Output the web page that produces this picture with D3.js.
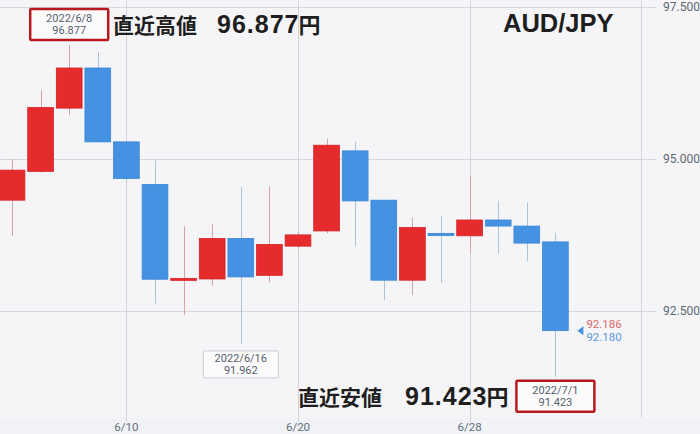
<!DOCTYPE html>
<html><head><meta charset="utf-8">
<script src="https://cdn.jsdelivr.net/npm/d3@7"></script>
<style>body{margin:0;background:#f5f5f8}svg{display:block}</style>
</head><body>
<svg id="c" width="700" height="434"></svg>
<script>
// ---- data ----
const dates  = ["6/6","6/7","6/8","6/9","6/10","6/13","6/14","6/15","6/16","6/17","6/20","6/21","6/22","6/23","6/24","6/27","6/28","6/29","6/30","7/1"];
const opens  = [94.326,94.80,95.84,96.50,95.285,94.584,93.03,93.03,93.696,93.09,93.57,93.82,95.137,94.326,93.01,93.78,93.74,94.00,93.90,93.64];
const highs  = [95.00,96.135,96.877,96.765,95.30,94.98,93.90,93.93,94.544,94.556,93.80,95.34,95.285,94.33,94.04,94.063,94.72,94.314,94.288,93.79];
const lows   = [93.74,94.78,95.724,95.27,94.62,92.627,92.434,92.916,91.962,92.972,93.52,93.78,93.569,92.68,92.763,92.965,93.45,93.45,93.322,91.423];
const closes = [94.82,95.85,96.50,95.285,94.683,93.026,93.04,93.696,93.064,93.597,93.755,95.23,94.314,93.01,93.877,93.745,94.00,93.90,93.62,92.18];
const xTickLabels = ["6/10","6/20","6/28"];
const yTicks = [92.5,95.0,97.5];
const lastPrices = [92.186,92.180];
const annots = [
  {date:"2022/6/8", idx:2, kind:"high", red:true},
  {date:"2022/6/16", idx:8, kind:"low", red:false},
  {date:"2022/7/1", idx:19, kind:"low", red:true}
];
const pairName = "AUD/JPY";
const highTitle = "直近高値";
const lowTitle = "直近安値";

// ---- scales ----
const svg = d3.select("#c");
const x = d3.scaleBand().domain(dates).range([-2.3, -2.3 + 28.6*dates.length]).paddingInner(0.1).paddingOuter(0.05);
const xc = d => x(d) + x.bandwidth()/2;
const y = d3.scaleLinear().domain([92.5,97.5]).range([311.2,7.2]);
const plotRight = xc("6/28") + 6*x.step();
const plotBottom = 418;

// background
svg.append("rect").attr("x",0).attr("y",0).attr("width",700).attr("height",434).attr("fill","#f5f5f8");
svg.append("rect").attr("x",0).attr("y",plotBottom).attr("width",700).attr("height",434-plotBottom).attr("fill","#f1f2f5");

// grid
const grid = svg.append("g");
grid.selectAll("line.h").data(yTicks).join("line").attr("class","h")
  .attr("x1",0).attr("x2",plotRight+15).attr("y1",d=>Math.round(y(d))+0.5).attr("y2",d=>Math.round(y(d))+0.5)
  .attr("stroke","#d6d7dc").attr("stroke-width",1.2);
grid.selectAll("line.v").data(xTickLabels).join("line").attr("class","v")
  .attr("x1",d=>Math.round(xc(d))+0.5).attr("x2",d=>Math.round(xc(d))+0.5).attr("y1",0).attr("y2",plotBottom+4)
  .attr("stroke","#d3d4d9").attr("stroke-width",1);
grid.append("line").attr("x1",Math.round(plotRight)+0.5).attr("x2",Math.round(plotRight)+0.5).attr("y1",0).attr("y2",plotBottom)
  .attr("stroke","#d3d4d9");

// axis labels
svg.append("g").selectAll("text").data(yTicks).join("text")
  .attr("x",663).attr("y",d=>y(d)).attr("dy","0.35em")
  .attr("font-family","Roboto, sans-serif").attr("font-size",12).attr("fill","#5f6670")
  .text(d=>d3.format(".3f")(d));
svg.append("g").selectAll("text").data(xTickLabels).join("text")
  .attr("x",d=>xc(d)).attr("y",427).attr("dy","0.35em").attr("text-anchor","middle")
  .attr("font-family","Roboto, sans-serif").attr("font-size",11.5).attr("fill","#5f6f80")
  .text(d=>d);

// candles
const RED="#e52b2c", BLUE="#4591e2";
const candles = svg.append("g").selectAll("g").data(dates.map((d,i)=>({d,o:opens[i],h:highs[i],l:lows[i],c:closes[i]}))).join("g");
candles.append("line")
  .attr("x1",d=>Math.round(xc(d.d))+0.5).attr("x2",d=>Math.round(xc(d.d))+0.5)
  .attr("y1",d=>y(d.h)).attr("y2",d=>y(d.l))
  .attr("stroke",d=>d.c>=d.o?"#dba3a6":"#a9c3df").attr("stroke-width",1);
candles.append("rect")
  .attr("x",d=>x(d.d)).attr("width",x.bandwidth())
  .attr("y",d=>y(Math.max(d.o,d.c)))
  .attr("height",d=>Math.max(2,Math.abs(y(d.o)-y(d.c))))
  .attr("fill",d=>d.c>=d.o?RED:BLUE)
  .attr("stroke",d=>d.c>=d.o?"#d42226":"#3b86d6").attr("stroke-width",0.8);

// last price marker
const lp = svg.append("g");
const yl = y(closes[closes.length-1]);
lp.append("path").attr("d",`M${xc("7/1")+22},${yl} l6,-4.5 l0,9 z`).attr("fill",BLUE);
lp.append("text").attr("x",xc("7/1")+31).attr("y",yl-6.5).attr("dy","0.35em")
  .attr("font-family","Roboto, sans-serif").attr("font-size",11.5).attr("fill","#df6a6c").text(d3.format(".3f")(lastPrices[0]));
lp.append("text").attr("x",xc("7/1")+31).attr("y",yl+6.5).attr("dy","0.35em")
  .attr("font-family","Roboto, sans-serif").attr("font-size",11.5).attr("fill","#5b9be0").text(d3.format(".3f")(lastPrices[1]));

// annotation boxes
const ag = svg.append("g");
annots.forEach(a=>{
  const cx = xc(dates[a.idx]);
  const v = a.kind==="high"?highs[a.idx]:lows[a.idx];
  const w = a.red?78:75, h = a.red?31:27;
  const top = a.kind==="high"? y(v)-5-h : y(v)+(a.red?4:7);
  ag.append("rect").attr("x",cx-w/2).attr("y",top).attr("width",w).attr("height",h)
    .attr("fill","#fbfbfc").attr("stroke",a.red?"#b8191f":"#c9ccd3").attr("stroke-width",a.red?2.5:1).attr("rx",1);
  ag.append("text").attr("x",cx).attr("y",top+h/2-6).attr("dy","0.35em").attr("text-anchor","middle")
    .attr("font-family","Roboto, sans-serif").attr("font-size",11).attr("fill","#56606c").text(a.date);
  ag.append("text").attr("x",cx).attr("y",top+h/2+6).attr("dy","0.35em").attr("text-anchor","middle")
    .attr("font-family","Roboto, sans-serif").attr("font-size",11).attr("fill","#56606c").text(d3.format(".3f")(v));
});

// titles
const T = svg.append("g").attr("font-family","'Noto Sans CJK JP', sans-serif").attr("font-weight","bold").attr("fill","#1e1e1e");
function title(tx, kx, nx, by, val){
  const t = T.append("text").attr("y",by);
  t.append("tspan").attr("x",kx).attr("font-size",21).text(tx);
  t.append("tspan").attr("x",nx).attr("font-size",25).attr("letter-spacing",1)
    .attr("font-family","'Liberation Sans', Arial, sans-serif").text(d3.format(".3f")(val));
  t.append("tspan").attr("font-size",22).attr("dx",-1).text("円");
}
title(highTitle,113,217,33,highs[2]);
title(lowTitle,298,405,405,lows[19]);
svg.append("text").attr("x",503).attr("y",31.5).attr("font-family","'Liberation Sans', Arial, sans-serif")
  .attr("font-weight","bold").attr("font-size",25.5).attr("fill","#1e1e1e").text(pairName);
</script>
</body></html>
